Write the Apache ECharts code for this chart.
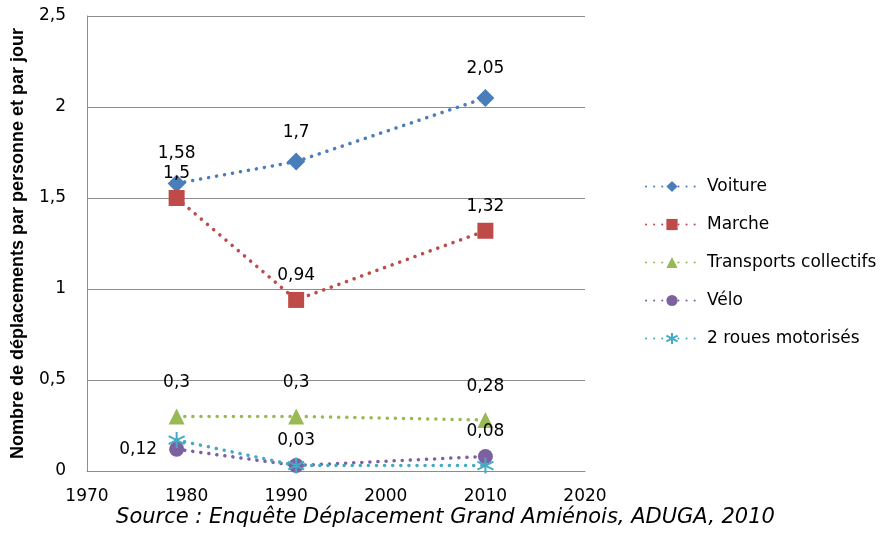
<!DOCTYPE html>
<html>
<head>
<meta charset="utf-8">
<script src="https://cdn.jsdelivr.net/npm/echarts@6/dist/echarts.min.js"></script>
<style>
  html, body { margin: 0; padding: 0; background: #fff; }
  #chart { width: 891px; height: 536px; }
</style>
</head>
<body>
<div id="chart"></div>
<script>
// années d'enquête
const years = [1979, 1991, 2010];
const xTicks = [1970, 1980, 1990, 2000, 2010, 2020];
const yTicks = [0, 0.5, 1, 1.5, 2, 2.5];

// déplacements par personne et par jour
const voiture = [1.58, 1.7, 2.05];
const marche = [1.5, 0.94, 1.32];
const transports = [0.3, 0.3, 0.28];
const velo = [0.12, 0.03, 0.08];
const deuxRoues = [0.17, 0.03, 0.03];

const font = "'DejaVu Sans', sans-serif";
const fmt = (v) => String(v).replace(".", ",");
const pairs = (vals) => years.map((y, i) => [y, vals[i]]);

const asterisk = "path://M5,0L5,10M0.7,2.5L9.3,7.5M0.7,7.5L9.3,2.5";

const mkSeries = (name, vals, color, symbol, size, label) => ({
  name: name,
  type: "line",
  data: pairs(vals),
  symbol: symbol,
  symbolSize: size,
  lineStyle: { color: color, width: 3.5, type: [0.1, 8], cap: "round" },
  itemStyle: { color: color },
  label: label,
  z: 3,
});

const mkLabel = (dist) => ({
  show: true,
  position: "top",
  distance: dist,
  color: "#000",
  fontFamily: font,
  fontSize: 17,
  formatter: (p) => fmt(p.value[1]),
});

const chart = echarts.init(document.getElementById("chart"));
chart.setOption({
  animation: false,
  backgroundColor: "#fff",
  grid: { left: 87, top: 16, right: 306, bottom: 65, containLabel: false, outerBoundsMode: "none" },
  legend: {
    orient: "vertical",
    left: 640,
    top: 173,
    itemWidth: 52,
    itemHeight: 14,
    itemGap: 21,
    textStyle: { fontFamily: font, fontSize: 17, color: "#000", padding: [0, 0, 0, 4] },
    data: ["Voiture", "Marche", "Transports collectifs", "Vélo", "2 roues motorisés"],
  },
  xAxis: {
    type: "value",
    min: 1970,
    max: 2020,
    interval: 10,
    axisLine: { lineStyle: { color: "#8c8c8c", width: 1 } },
    axisTick: { show: false },
    splitLine: { show: false },
    axisLabel: {
      color: "#000",
      fontFamily: font,
      fontSize: 17,
      margin: 17,
      customValues: xTicks,
      formatter: (v) => String(v),
    },
  },
  yAxis: {
    type: "value",
    min: 0,
    max: 2.5,
    interval: 0.5,
    name: "Nombre de déplacements par personne et par jour",
    nameLocation: "middle",
    nameGap: 60,
    nameTextStyle: { fontFamily: "'Liberation Sans', Arial, sans-serif", fontWeight: "bold", fontSize: 18, color: "#000" },
    axisLine: { show: true, lineStyle: { color: "#8c8c8c", width: 1 } },
    axisTick: { show: false },
    splitLine: { lineStyle: { color: "#8c8c8c", width: 1 } },
    axisLabel: {
      color: "#000",
      fontFamily: font,
      fontSize: 17,
      margin: 21,
      customValues: yTicks,
      formatter: (v) => fmt(v),
    },
  },
  series: [
    mkSeries("Voiture", voiture, "#4A7EBB", "diamond", 18, mkLabel(12)),
    mkSeries("Marche", marche, "#BE4B48", "rect", 16, mkLabel(8)),
    mkSeries("Transports collectifs", transports, "#98B954", "triangle", 16, mkLabel(17)),
    mkSeries("Vélo", velo, "#7D60A0", "circle", 15, mkLabel(9)),
    Object.assign(mkSeries("2 roues motorisés", deuxRoues, "#46AAC5", asterisk, 16, { show: false }), {
      itemStyle: { color: "none", borderColor: "#46AAC5", borderWidth: 2 },
    }),
  ],
  graphic: [
    {
      type: "text",
      left: "center",
      top: 507,
      style: {
        x: 8,
        text: "Source : Enquête Déplacement Grand Amiénois, ADUGA, 2010",
        fontFamily: font,
        fontStyle: "italic",
        fontSize: 21,
        fill: "#000",
      },
    },
  ],
});

// l'étiquette 0,12 est à gauche du point
chart.setOption({
  series: [{}, {}, {}, {
    data: pairs(velo).map((d, i) => i === 0
      ? { value: d, label: { position: "left", distance: 12 } }
      : d),
  }],
});
</script>
</body>
</html>
